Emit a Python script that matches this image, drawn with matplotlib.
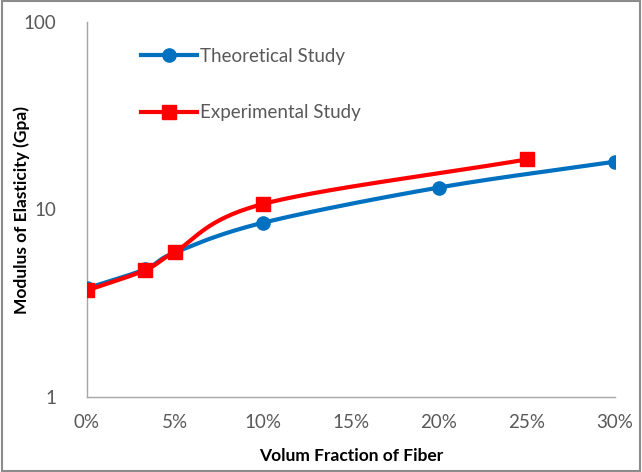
import numpy as np
import matplotlib
matplotlib.use("Agg")
import matplotlib.pyplot as plt
from matplotlib.lines import Line2D
from matplotlib.patches import Rectangle
from matplotlib.ticker import FuncFormatter

# values
theo_frac = [0.0, 0.033, 0.05, 0.10, 0.20, 0.30]
theo_mod = [3.8, 4.8, 5.9, 8.5, 13.1, 18.0]
exp_frac = [0.0, 0.033, 0.05, 0.10, 0.25]
exp_mod = [3.7, 4.75, 5.95, 10.7, 18.5]

x_ticks = [0.0, 0.05, 0.10, 0.15, 0.20, 0.25, 0.30]
y_ticks = [1, 10, 100]

BLUE = '#0070C0'
RED = '#FF0000'
GREY = '#595959'

plt.rcParams['font.family'] = ['Lato', 'DejaVu Sans']


# Excel-like smoothed line: Catmull-Rom through the points, in (x, log y)
def smooth(xs, ys, n=40):
    x = np.asarray(xs, float)
    y = np.log10(np.asarray(ys, float))
    px = np.concatenate([[2 * x[0] - x[1]], x, [2 * x[-1] - x[-2]]])
    py = np.concatenate([[2 * y[0] - y[1]], y, [2 * y[-1] - y[-2]]])
    out_x, out_y = [], []
    t = np.linspace(0, 1, n)
    for i in range(1, len(px) - 2):
        for arr, src in ((out_x, px), (out_y, py)):
            p0, p1, p2, p3 = src[i - 1], src[i], src[i + 1], src[i + 2]
            seg = 0.5 * ((2 * p1) + (-p0 + p2) * t +
                         (2 * p0 - 5 * p1 + 4 * p2 - p3) * t ** 2 +
                         (-p0 + 3 * p1 - 3 * p2 + p3) * t ** 3)
            arr.extend(seg)
    return np.array(out_x), 10 ** np.array(out_y)


fig = plt.figure(figsize=(6.42, 4.72), dpi=100)
ax = fig.add_axes([87 / 642, 1 - 397 / 472, (615 - 87) / 642, (397 - 22) / 472])

sx, sy = smooth(theo_frac, theo_mod)
ax.plot(sx, sy, color=BLUE, lw=3, solid_capstyle='round', zorder=3)
ax.plot(theo_frac, theo_mod, 'o', color=BLUE, ms=9.5, zorder=4)

sx, sy = smooth(exp_frac, exp_mod)
ax.plot(sx, sy, color=RED, lw=3, solid_capstyle='round', zorder=5)
ax.plot(exp_frac, exp_mod, 's', color=RED, ms=10, zorder=6)

ax.set_yscale('log')
ax.set_xlim(0, 0.30)
ax.set_ylim(1, 100)
ax.set_xticks(x_ticks)
ax.set_yticks(y_ticks)
ax.minorticks_off()
ax.xaxis.set_major_formatter(FuncFormatter(lambda v, p: f"{v * 100:.0f}%"))
ax.yaxis.set_major_formatter(FuncFormatter(lambda v, p: f"{v:g}"))
ax.tick_params(length=0, labelsize=13.5, labelcolor=GREY)
ax.tick_params(axis='x', pad=12)
ax.tick_params(axis='y', pad=22)

for side in ['top', 'right']:
    ax.spines[side].set_visible(False)
for side in ['left', 'bottom']:
    ax.spines[side].set_color('#A6A6A6')
    ax.spines[side].set_linewidth(1)

ax.set_xlabel('Volum Fraction of Fiber', fontsize=12.5, fontweight='bold')
ax.set_ylabel('Modulus of Elasticity (Gpa)', fontsize=12.5, fontweight='bold')
ax.xaxis.set_label_coords(0.5, -0.135)
ax.yaxis.set_label_coords(-0.108, 0.5)

handles = [
    Line2D([], [], color=BLUE, lw=3, marker='o', ms=9.5),
    Line2D([], [], color=RED, lw=3, marker='s', ms=10),
]
fig.legend(handles, ['Theoretical Study', 'Experimental Study'],
           loc='upper left', bbox_to_anchor=(141 / 642, 1 - 48 / 472),
           frameon=False, fontsize=13.5, handlelength=3.0, handletextpad=0.15,
           labelspacing=2.1, borderpad=0, borderaxespad=0, labelcolor=GREY)

fig.patches.append(Rectangle((0.003, 0.003), 0.994, 0.994, transform=fig.transFigure,
                             fill=False, edgecolor='#8C8C8C', lw=1.5))

fig.savefig('out.png', dpi=100)
